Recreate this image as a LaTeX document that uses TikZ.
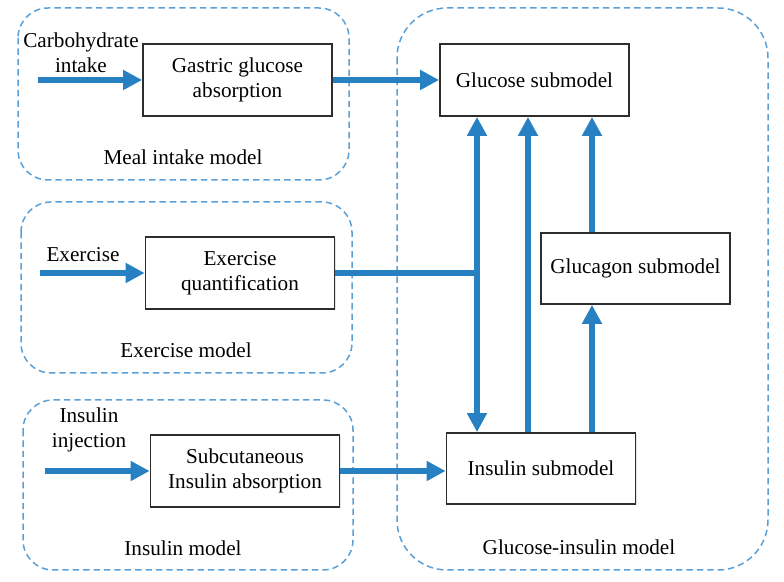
\documentclass[tikz,border=0pt]{standalone}
\usepackage{fontspec}
\setmainfont{Liberation Serif}
\usetikzlibrary{arrows.meta,shadows}
\definecolor{arrblue}{RGB}{38,128,194}
\definecolor{dashblue}{RGB}{90,160,215}
\definecolor{boxgray}{RGB}{45,45,45}
\begin{document}
\begin{tikzpicture}[x=0.5pt,y=-0.5pt,
  every node/.style={font=\fontsize{10.6}{12.5}\selectfont, align=center, text=black},
  subbox/.style={draw=boxgray, line width=0.9pt, fill=white, inner sep=0pt,
    minimum width=94.5pt, minimum height=36pt,
    drop shadow={opacity=0.22, shadow xshift=0.7pt, shadow yshift=-0.7pt}},
  groupbox/.style={draw=dashblue, line width=0.75pt, dash pattern=on 3.2pt off 2pt},
  tip/.tip={Triangle[length=9.5pt,width=9.5pt]},
  arr/.style={draw=arrblue, line width=2.7pt, -tip},
  dblarr/.style={draw=arrblue, line width=2.7pt, tip-tip},
  plain/.style={draw=arrblue, line width=2.7pt}
]
\useasboundingbox (0,0) rectangle (784,582);

% group boxes
\draw[groupbox, rounded corners=15pt] (18,8) rectangle (349,180);
\draw[groupbox, rounded corners=15pt] (21,202) rectangle (352,373);
\draw[groupbox, rounded corners=15pt] (23,400) rectangle (353,570);
\draw[groupbox, rounded corners=25pt] (397,8) rectangle (768,570);

% group labels
\node (lmeal) at (183,157) {Meal intake model};
\node (lex) at (186,350) {Exercise model};
\node (lins) at (183,548) {Insulin model};
\node (lgi) at (579,547) {Glucose-insulin model};

% input labels
\node (tcarb) at (81,53) {Carbohydrate\\intake};
\node (tex) at (83,255) {Exercise};
\node (tinj) at (89,430) {Insulin\\injection};

% process boxes
\node[subbox] (gastric) at (237.5,80) {Gastric glucose\\absorption};
\node[subbox] (exq) at (240,273) {Exercise\\quantification};
\node[subbox] (subq) at (245,471) {Subcutaneous\\Insulin absorption};
\node[subbox] (glucose) at (534.5,80) {Glucose submodel};
\node[subbox, minimum height=35.5pt] (glucagon) at (635.5,268.5) {Glucagon submodel};
\node[subbox, minimum height=35.5pt] (insulin) at (541,468.5) {Insulin submodel};

% free ends and columns
\coordinate (carbin) at (38,80);
\coordinate (exin) at (40,273);
\coordinate (injin) at (45,471);
\coordinate (c1) at (477,0);
\coordinate (c2) at (528,0);
\coordinate (c3) at (592,0);

% input arrows
\draw[arr] (carbin) -- (carbin -| gastric.west);
\draw[arr] (exin) -- (exin -| exq.west);
\draw[arr] (injin) -- (injin -| subq.west);

% model connections
\draw[arr] (gastric.east) -- (gastric.east -| glucose.west);
\draw[arr] (subq.east) -- (subq.east -| insulin.west);
\draw[plain] (exq.east) -- (exq.east -| c1);
\draw[dblarr] (insulin.north -| c1) -- (glucose.south -| c1);
\draw[arr] (insulin.north -| c2) -- (glucose.south -| c2);
\draw[arr] (insulin.north -| c3) -- (glucagon.south -| c3);
\draw[arr] (glucagon.north -| c3) -- (glucose.south -| c3);
\end{tikzpicture}
\end{document}
